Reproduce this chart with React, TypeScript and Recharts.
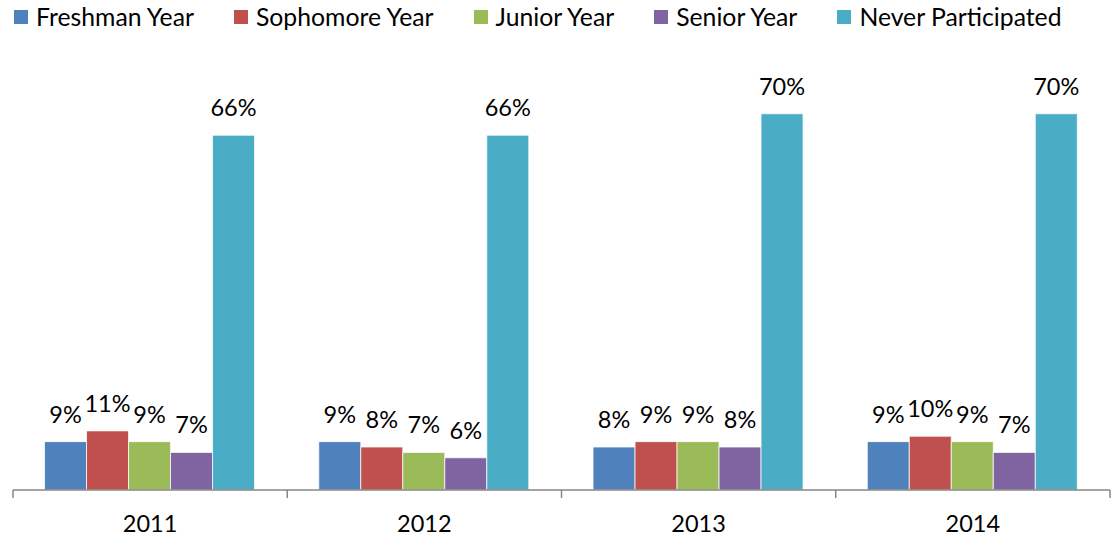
import { BarChart, Bar, XAxis, YAxis, LabelList } from "recharts";

const years = ["2011", "2012", "2013", "2014"];
const freshman = [9, 9, 8, 9];
const sophomore = [11, 8, 9, 10];
const junior = [9, 7, 9, 9];
const senior = [7, 6, 8, 7];
const never = [66, 66, 70, 70];

const series = [
  { key: "freshman", name: "Freshman Year", color: "#4F81BD" },
  { key: "sophomore", name: "Sophomore Year", color: "#C0504D" },
  { key: "junior", name: "Junior Year", color: "#9BBB59" },
  { key: "senior", name: "Senior Year", color: "#8064A2" },
  { key: "never", name: "Never Participated", color: "#4BACC6" },
];

const data = years.map((year, i) => ({
  year,
  freshman: freshman[i],
  sophomore: sophomore[i],
  junior: junior[i],
  senior: senior[i],
  never: never[i],
}));

const W = 1111;
const H = 539;
const margin = { top: 60, right: 1, bottom: 0, left: 13 };
const FONT = "Lato, 'Open Sans', sans-serif";
const FS = 23.5;
const AXIS = "#868686";
const halfBand = (W - margin.left - margin.right) / years.length / 2;

function YearTick(props: any) {
  const { x, y, payload, index } = props;
  const axisY = y - 8;
  return (
    <g>
      <line x1={x - halfBand} x2={x - halfBand} y1={axisY} y2={axisY + 8} stroke={AXIS} strokeWidth={1.5} />
      {index === years.length - 1 && (
        <line x1={x + halfBand} x2={x + halfBand} y1={axisY} y2={axisY + 8} stroke={AXIS} strokeWidth={1.5} />
      )}
      <text x={x} y={axisY + 42} textAnchor="middle" fontSize={FS} fill="#000" fontFamily={FONT}>
        {payload.value}
      </text>
    </g>
  );
}

export default function App() {
  return (
    <div style={{ position: "absolute", left: 0, top: 0, width: W, height: H, background: "#fff" }}>
      <div
        style={{
          position: "absolute",
          left: 14,
          top: 2,
          display: "flex",
          gap: 40,
          fontFamily: FONT,
          fontSize: 24.75,
          color: "#000",
          zIndex: 2,
        }}
      >
        {series.map((s) => (
          <div key={s.key} style={{ display: "flex", alignItems: "center" }}>
            <span style={{ width: 14, height: 14, background: s.color, display: "inline-block", marginRight: 8 }} />
            <span>{s.name}</span>
          </div>
        ))}
      </div>
      <BarChart width={W} height={H} data={data} margin={margin} barCategoryGap="11.5%" barGap={0}>
        <XAxis
          dataKey="year"
          height={49}
          axisLine={{ stroke: AXIS, strokeWidth: 1.5 }}
          tickLine={false}
          tickSize={8}
          tickMargin={0}
          tick={<YearTick />}
          interval={0}
        />
        <YAxis hide domain={[0, 80]} />
        {series.map((s) => (
          <Bar key={s.key} dataKey={s.key} name={s.name} fill={s.color} stroke="#fff" strokeWidth={0.75} isAnimationActive={false}>
            <LabelList
              dataKey={s.key}
              position="top"
              offset={19}
              fontSize={FS}
              fill="#000"
              fontFamily={FONT}
              formatter={(v: any) => `${v}%`}
            />
          </Bar>
        ))}
      </BarChart>
    </div>
  );
}
